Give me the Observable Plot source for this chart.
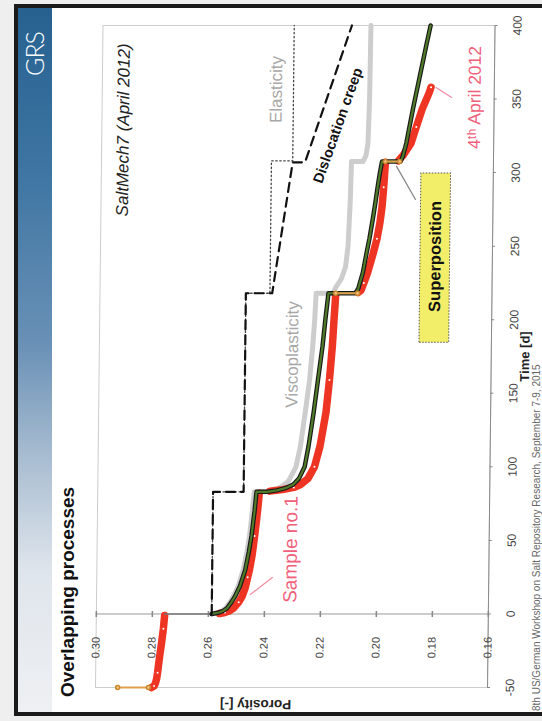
<!DOCTYPE html>
<html>
<head>
<meta charset="utf-8">
<script src="https://cdn.jsdelivr.net/npm/d3@7"></script>
<script src="https://cdn.jsdelivr.net/npm/@observablehq/plot@0.6"></script>
<style>
html, body { margin:0; padding:0; width:542px; height:721px; overflow:hidden; background:#efefef; }
#slide { position:absolute; left:0; top:0; width:721px; height:542px; transform-origin:0 0;
  transform: translate(0px, 721px) rotate(-90deg); font-family:"Liberation Sans", Arial, sans-serif; }
#paper { position:absolute; left:5px; top:14px; width:712px; height:560px; box-sizing:border-box; background:#fff;
  border-left:4px solid #1b1b1b; border-top:4px solid #1b1b1b; border-right:4px solid #1b1b1b; }
#band { position:absolute; left:9px; top:18px; width:704px; height:34px;
  background: linear-gradient(to right, #eef0f3 0%, #dfe5ec 20%, #a9bdd1 36%, #6a91b6 52%, #3f76a3 76%, #266190 100%); }
#logo { position:absolute; left:645px; top:22px; font-size:25px; line-height:25px; color:#fff; letter-spacing:-1px; font-weight:300; font-family:Lato, "Liberation Sans", sans-serif; }
#title { position:absolute; left:24px; top:58px; font-size:19px; line-height:19px; font-weight:bold; color:#111; white-space:nowrap; }
#footer { position:absolute; left:10px; top:532px; font-size:10px; line-height:10px; color:#666; white-space:nowrap; }
#chart { position:absolute; left:0; top:85px; width:721px; height:455px; transform-origin:33px 0; transform: skewY(0.65deg); }
</style>
</head>
<body>
<div id="slide">
  <div id="paper"></div>
  <div id="band"></div>
  <div id="logo">GRS</div>
  <div id="title">Overlapping processes</div>
  <div id="footer">8th US/German Workshop on Salt Repository Research, September 7-9, 2015</div>
  <div id="chart"></div>
</div>
<script>
// ---- axes ----
const xTicks = [-50, 0, 50, 100, 150, 200, 250, 300, 350, 400];
const yTicks = [0.16, 0.18, 0.20, 0.22, 0.24, 0.26, 0.28, 0.30];

// ---- measured porosity, Sample no.1 (red), per loading stage [time d, porosity] ----
const sampleStage0 = [[-50,0.2800],[-49,0.2791],[-47,0.2786],[-44,0.2782],[-40,0.2779],[-30,0.2773],[-20,0.2766],[-10,0.2760],[-1,0.2756]];
const sampleStage1 = [[0.3,0.2560],[1,0.2541],[2,0.2526],[4,0.2510],[8,0.2492],[12,0.2480],[18,0.2469],[25,0.2461],[30,0.2455],[40,0.2446],[53,0.2438],[65,0.2431],[75,0.2426],[82,0.2423]];
const sampleStage2 = [[83.5,0.2385],[84.5,0.2340],[86,0.2300],[88,0.2275],[92,0.2250],[100,0.2227],[114,0.2208],[137,0.2188],[159,0.2177],[182,0.2168],[200,0.2163],[217,0.2158]];
const sampleStage3 = [[218.5,0.2078],[220,0.2068],[225,0.2058],[232,0.2045],[245,0.2026],[255,0.2013],[266,0.2003],[277,0.1996],[290,0.1991],[300,0.1988],[307,0.1986]];
const sampleStage4 = [[308,0.1940],[312,0.1922],[320,0.1895],[331,0.1877],[343,0.1857],[354,0.1833],[358,0.1826]];

// loading steps (orange markers)
const loadStep0 = [[-50,0.2921],[-50,0.2811]];
const loadStep3 = [[218,0.2158],[218,0.2080]];
const loadStep4 = [[307.5,0.1986],[307.5,0.1935]];
const initialStep = [[0,0.2756],[0,0.2588]];

// ---- model curves ----
const superposition = [[0,0.2588],[1,0.2562],[2,0.2548],[4,0.2533],[8,0.2518],[12,0.2505],[19,0.2488],[30,0.2470],[42,0.2458],[53,0.2449],[70,0.2439],[83,0.2433],
  [83,0.2395],[84,0.2360],[85.5,0.2330],[88,0.2302],[92,0.2282],[100,0.2262],[114,0.2249],[137,0.2232],[159,0.2218],[182,0.2203],[200,0.2194],[218,0.2184],
  [218,0.2088],[221,0.2078],[232,0.2062],[246,0.2049],[255,0.2040],[268,0.2029],[277,0.2022],[291,0.2012],[300,0.2005],[307.5,0.1998],
  [307.5,0.1932],[311,0.1924],[320,0.1912],[343,0.1890],[365,0.1867],[388,0.1843],[400,0.1830]];
const viscoplasticity = [[0,0.2588],[1,0.2565],[2,0.2552],[4,0.2538],[8,0.2523],[12,0.2511],[19,0.2494],[30,0.2477],[42,0.2465],[53,0.2456],[70,0.2447],[83,0.2441],
  [83,0.2398],[84,0.2375],[86,0.2348],[90,0.2320],[100,0.2293],[114,0.2278],[137,0.2262],[159,0.2248],[182,0.2238],[200,0.2232],[218,0.2228],
  [218,0.2168],[222,0.2158],[228,0.2138],[236,0.2124],[250,0.2116],[280,0.2110],[307.5,0.2107],
  [307.5,0.2066],[312,0.2055],[320,0.2049],[350,0.2045],[400,0.2043]];
const elasticity = [[0,0.2588],[83,0.2588],[83,0.2479],[218,0.2479],[218,0.2393],[308,0.2393],[308,0.2317],[400,0.2317]];
const dislocationCreep = [[0,0.2588],[83,0.2588],[83,0.2479],[218,0.2479],[218,0.2385],[307,0.2317],[307,0.2273],[400,0.2111]];

// ---- annotations ----
const annotationText = ["SaltMech7 (April 2012)", "Elasticity", "Dislocation creep", "Viscoplasticity", "Sample no.1", "4\u1D57\u02B0 April 2012", "Superposition"];
const annotationT = [329, 356.5, 332, 176.4, 43.8, 351.1, 243];
const annotationP = [0.2923, 0.2378, 0.2157, 0.2310, 0.2308, 0.1669, 0.1804];
const sampleLeader = [[13.2,0.2451],[24.8,0.2373]];
const dateLeader = [[357.9,0.1808],[351.1,0.1752]];
const superLeader = [[281.7,0.1877],[304.2,0.1946]];
const boxT = [185, 300];
const boxP = [0.1751, 0.1857];

// ---- build ----
const rows = (arr, stage = 0) => arr.map(([t, p]) => ({t, p, stage}));
const sampleRows = [sampleStage0, sampleStage1, sampleStage2, sampleStage3, sampleStage4].flatMap((a, i) => rows(a, i));
const stepRows = [loadStep0, loadStep3, loadStep4].flatMap((a, i) => rows(a, i));
const hTick = {draw(ctx, size) { const r = Math.sqrt(size / Math.PI); ctx.moveTo(-r, 0); ctx.lineTo(r, 0); }};
const label = (i, opts) => Plot.text([i], {x: j => annotationT[j], y: j => annotationP[j], text: j => annotationText[j], ...opts});

const plot = Plot.plot({
  width: 721, height: 455,
  marginLeft: 33, marginRight: 26, marginTop: 10, marginBottom: 53,
  x: {domain: [xTicks[0], xTicks[xTicks.length - 1]]},
  y: {domain: [yTicks[0], yTicks[yTicks.length - 1]], axis: null},
  style: {background: "transparent", fontFamily: "'Liberation Sans', Arial, sans-serif", overflow: "visible"},
  marks: [
    Plot.frame({stroke: "#cccccc"}),
    Plot.ruleX([0], {stroke: "#9a9a9a"}),
    Plot.ruleY([yTicks[0]], {stroke: "#8a8a8a"}),
    Plot.axisX(xTicks, {anchor: "bottom", tickSize: 3, tickPadding: 15, fontSize: 12, stroke: "#888", fill: "#444", tickFormat: d => String(d), label: null}),
    Plot.dot(yTicks, {x: 0, y: d => d, symbol: hTick, r: 3, stroke: "#888"}),
    Plot.text(yTicks, {x: 0, y: d => d, text: d => d.toFixed(2), textAnchor: "end", dx: -23, fontSize: 11, fill: "#444"}),
    Plot.text(["Time [d]"], {text: d => d, frameAnchor: "bottom", dy: 38, fontSize: 13, fontWeight: "bold", fill: "#222"}),
    Plot.text(["Porosity [-]"], {text: d => d, frameAnchor: "left", dx: -17, rotate: -90, fontSize: 13.5, fontWeight: "bold", fill: "#222"}),

    // superposition box
    Plot.rect([0], {x1: () => boxT[0], x2: () => boxT[1], y1: () => boxP[0], y2: () => boxP[1], fill: "#f2ee6a", stroke: "#555", strokeDasharray: "1.5,1.5"}),
    label(6, {fontSize: 16.5, fontWeight: "bold", fill: "#111"}),

    // model & measurement curves
    Plot.line(rows(viscoplasticity), {x: "t", y: "p", stroke: "#cdcdcd", strokeWidth: 5}),
    Plot.line(sampleRows, {x: "t", y: "p", z: "stage", stroke: "#ee3524", strokeWidth: 7.5, strokeLinecap: "round", strokeLinejoin: "round"}),
    Plot.dot(sampleRows.filter((d, i) => i % 3 === 1), {x: "t", y: "p", r: 1, fill: "#fff"}),
    Plot.line(rows(initialStep), {x: "t", y: "p", stroke: "#777", strokeWidth: 1.5}),
    Plot.line(rows(superposition), {x: "t", y: "p", stroke: "#1a1a1a", strokeWidth: 4.5}),
    Plot.line(rows(superposition), {x: "t", y: "p", stroke: "#4f7a28", strokeWidth: 2.2}),
    Plot.line(stepRows, {x: "t", y: "p", z: "stage", stroke: "#e0a050", strokeWidth: 2}),
    Plot.dot(stepRows, {x: "t", y: "p", r: 2, stroke: "#c9852e", fill: "#f5c985"}),
    Plot.line(rows(elasticity), {x: "t", y: "p", stroke: "#444", strokeWidth: 1.3, strokeDasharray: "1.5,2.5"}),
    Plot.line(rows(dislocationCreep), {x: "t", y: "p", stroke: "#111", strokeWidth: 2.2, strokeDasharray: "9,6"}),

    // leaders
    Plot.line(rows(sampleLeader), {x: "t", y: "p", stroke: "#f08aa0", strokeWidth: 1.2}),
    Plot.line(rows(dateLeader), {x: "t", y: "p", stroke: "#f08aa0", strokeWidth: 1.2}),
    Plot.line(rows(superLeader), {x: "t", y: "p", stroke: "#888", strokeWidth: 1.3}),

    // labels
    label(0, {fontSize: 17, fontStyle: "italic", fill: "#222"}),
    label(1, {fontSize: 17, fill: "#a8a8a8"}),
    label(2, {fontSize: 14.5, fontWeight: "bold", fill: "#111", rotate: 19}),
    label(3, {fontSize: 17, fill: "#a8a8a8"}),
    label(4, {fontSize: 19, fill: "#f0607a"}),
    label(5, {fontSize: 17.5, fill: "#f0607a"})
  ]
});
document.getElementById("chart").appendChild(plot);
</script>
</body>
</html>
